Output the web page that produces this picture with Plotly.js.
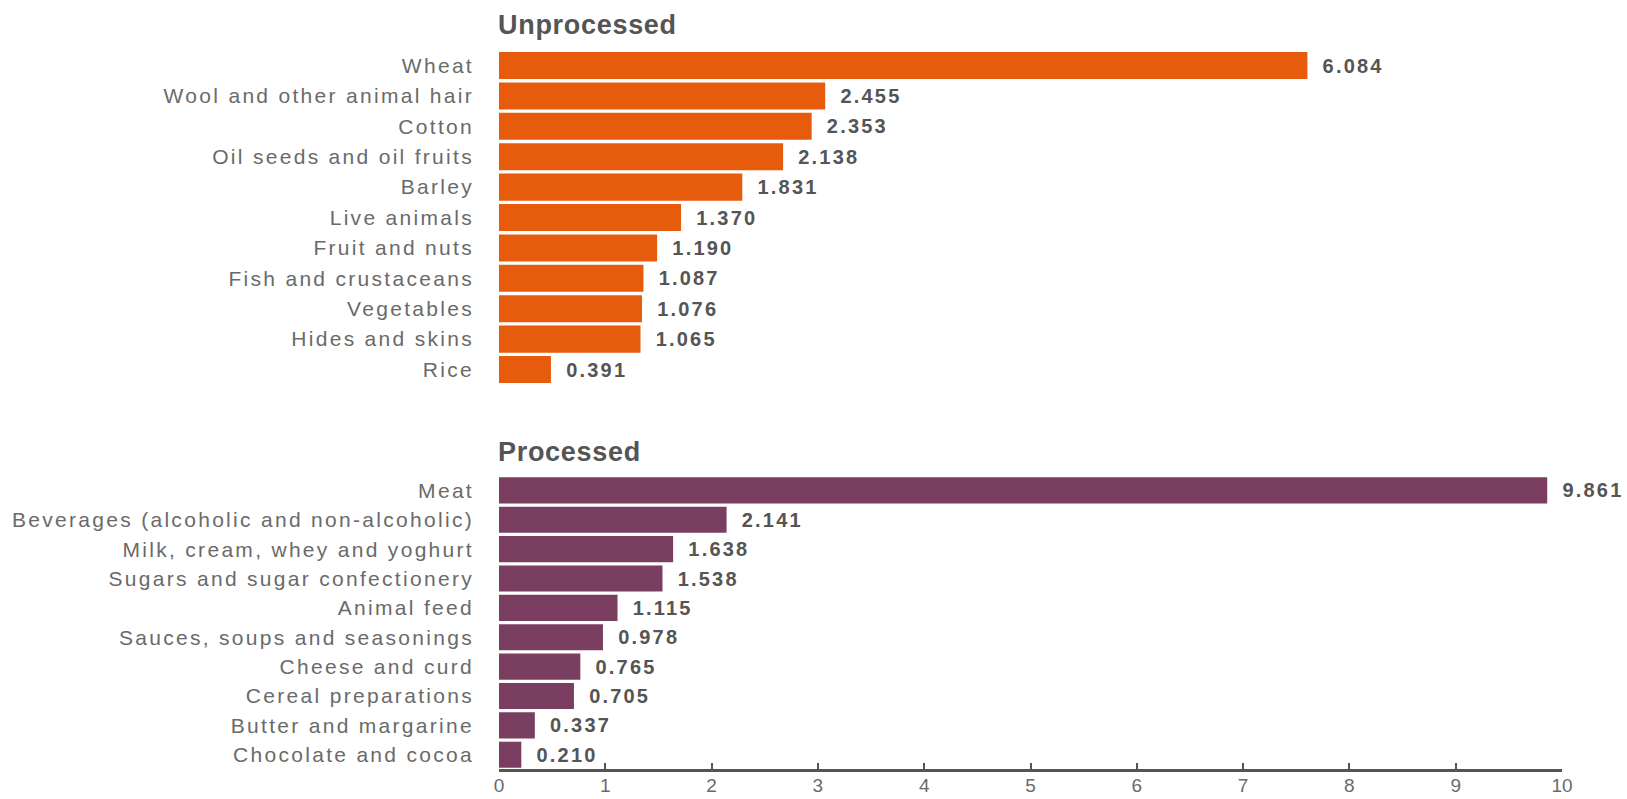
<!DOCTYPE html>
<html>
<head>
<meta charset="utf-8">
<script src="https://cdn.plot.ly/plotly-3.0.1.min.js"></script>
<style>
html, body { margin: 0; padding: 0; background: #fff; }
#chart { width: 1627px; height: 799px; }
.ytick text, .y2tick text { letter-spacing: 2.3px; }
.bartext { letter-spacing: 2.2px; }
.annotation-text { letter-spacing: 0.7px; }
</style>
</head>
<body>
<div id="chart"></div>
<script>
// ---- data ----
const unprocessedCategories = [
  "Wheat", "Wool and other animal hair", "Cotton", "Oil seeds and oil fruits",
  "Barley", "Live animals", "Fruit and nuts", "Fish and crustaceans",
  "Vegetables", "Hides and skins", "Rice"
];
const unprocessedValues = [6.084, 2.455, 2.353, 2.138, 1.831, 1.370, 1.190, 1.087, 1.076, 1.065, 0.391];

const processedCategories = [
  "Meat", "Beverages (alcoholic and non-alcoholic)", "Milk, cream, whey and yoghurt",
  "Sugars and sugar confectionery", "Animal feed", "Sauces, soups and seasonings",
  "Cheese and curd", "Cereal preparations", "Butter and margarine", "Chocolate and cocoa"
];
const processedValues = [9.861, 2.141, 1.638, 1.538, 1.115, 0.978, 0.765, 0.705, 0.337, 0.210];

const xTickValues = [0, 1, 2, 3, 4, 5, 6, 7, 8, 9, 10];
const panelTitles = ["Unprocessed", "Processed"];

// ---- styling ----
const FONT = "Liberation Sans, Arial, Helvetica, sans-serif";
const labelColor = "#6a6a6a";
const valueColor = "#555555";
const orange = "#E65C0C";
const plum = "#7A3F60";
const pad = "\u2002";

function barTrace(cats, vals, color, xa, ya) {
  return {
    type: "bar",
    orientation: "h",
    y: cats,
    x: vals,
    xaxis: xa,
    yaxis: ya,
    marker: { color: color, line: { width: 0 } },
    text: vals.map(v => pad + v.toFixed(3)),
    textposition: "outside",
    constraintext: "none",
    cliponaxis: false,
    outsidetextfont: { family: FONT, size: 20, color: valueColor, weight: "bold" },
    hoverinfo: "skip",
    showlegend: false
  };
}

const data = [
  barTrace(unprocessedCategories, unprocessedValues, orange, "x", "y"),
  barTrace(processedCategories, processedValues, plum, "x2", "y2")
];

const yCommon = {
  type: "category",
  autorange: "reversed",
  showline: false,
  showgrid: false,
  zeroline: false,
  ticks: "",
  ticklabelstandoff: 24,
  tickfont: { family: FONT, size: 21, color: labelColor }
};

const layout = {
  width: 1627,
  height: 799,
  margin: { l: 499, r: 65, t: 0, b: 0 },
  paper_bgcolor: "#ffffff",
  plot_bgcolor: "#ffffff",
  bargap: 0.11,
  xaxis: {
    domain: [0, 1],
    anchor: "y",
    range: [0, 8],
    visible: false,
    fixedrange: true
  },
  yaxis: Object.assign({}, yCommon, { domain: [0.5185, 0.937], anchor: "x" }),
  xaxis2: {
    domain: [0, 1],
    anchor: "y2",
    range: [0, 10],
    tickvals: xTickValues,
    ticktext: xTickValues.map(String),
    showgrid: false,
    zeroline: false,
    showline: true,
    linecolor: "#555555",
    linewidth: 2.5,
    ticks: "inside",
    ticklen: 6,
    tickwidth: 2,
    tickcolor: "#555555",
    ticklabelstandoff: -3,
    tickfont: { family: FONT, size: 19, color: labelColor },
    fixedrange: true
  },
  yaxis2: Object.assign({}, yCommon, { domain: [0.037, 0.4046], anchor: "x2" }),
  annotations: [
    {
      text: panelTitles[0], xref: "paper", yref: "paper", x: 0, y: 0.9687,
      xanchor: "left", yanchor: "middle", xshift: -3, showarrow: false,
      font: { family: FONT, size: 27, color: valueColor, weight: "bold" }
    },
    {
      text: panelTitles[1], xref: "paper", yref: "paper", x: 0, y: 0.4343,
      xanchor: "left", yanchor: "middle", xshift: -3, showarrow: false,
      font: { family: FONT, size: 27, color: valueColor, weight: "bold" }
    }
  ]
};

Plotly.newPlot("chart", data, layout, { displayModeBar: false, staticPlot: true });
</script>
</body>
</html>
